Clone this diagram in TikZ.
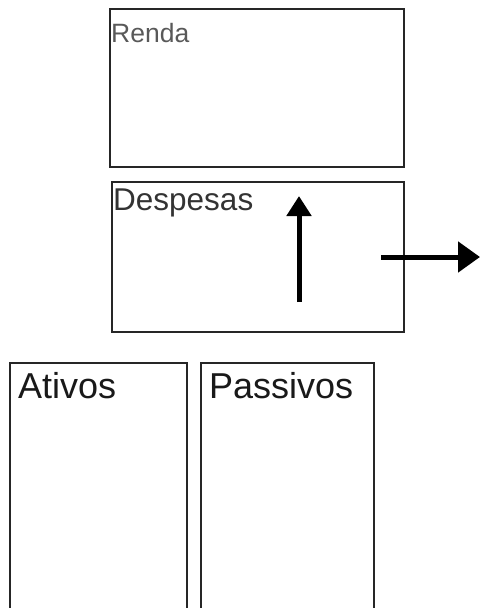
\documentclass[tikz,border=0pt]{standalone}
\usepackage{fontspec}
\setmainfont{Liberation Sans}
\usetikzlibrary{arrows.meta}
\begin{document}
\begin{tikzpicture}[x=1pt,y=-1pt,
  box/.style={draw=black!85, line width=2pt, anchor=north west, inner sep=0pt},
  lbl/.style={anchor=base west, inner sep=0pt},
  bigarrow/.style={line width=5pt, -{Triangle[length=20pt,width=24pt]}}]
\useasboundingbox (0,0) rectangle (480,608);
\clip (0,0) rectangle (480,608);
\node[box, minimum width=294pt, minimum height=158pt] (renda) at (109,8) {};
\node[box, minimum width=292pt, minimum height=150pt] (desp) at (111,181) {};
\node[box, minimum width=177pt, minimum height=260pt] (ativos) at (9,362) {};
\node[box, minimum width=173pt, minimum height=260pt] (passivos) at (200,362) {};
\node[lbl, text=black!65, font=\fontsize{26.5}{28}\selectfont] (tr) at (111,42) {Renda};
\node[lbl, text=black!80, font=\fontsize{31.5}{33}\selectfont] (td) at (113,210) {Despesas};
\node[lbl, text=black!90, font=\fontsize{36}{38}\selectfont] (ta) at (18,398) {Ativos};
\node[lbl, text=black!90, font=\fontsize{36}{38}\selectfont] (tp) at (209,398) {Passivos};
\coordinate (v1) at (299,302);
\coordinate (v2) at (299,196);
\coordinate (h1) at (381,257);
\coordinate (h2) at (480,257);
\draw[bigarrow] (v1) -- (v2);
\draw[bigarrow, -{Triangle[length=22pt,width=30pt]}] (h1) -- (h2);
\end{tikzpicture}
\end{document}
